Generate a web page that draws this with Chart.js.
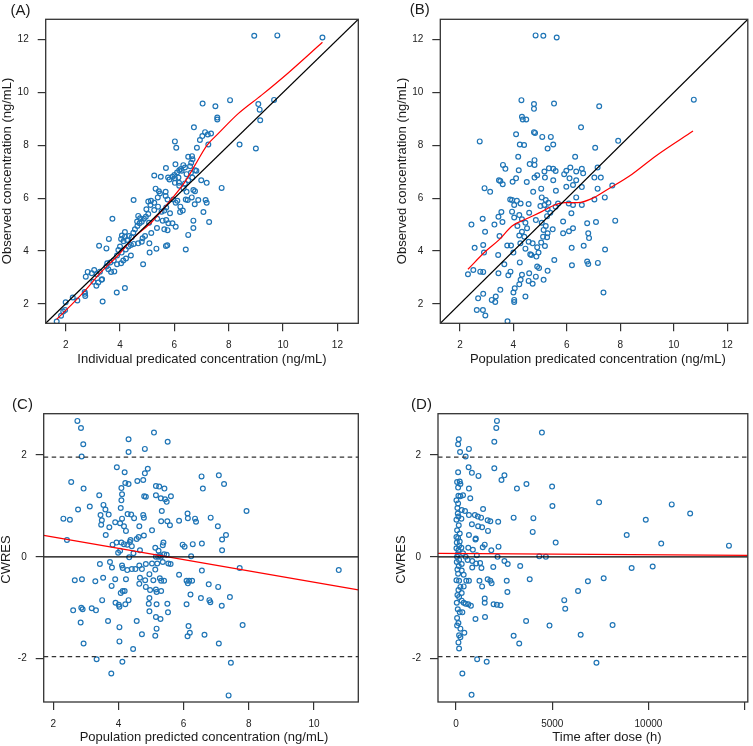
<!DOCTYPE html>
<html>
<head>
<meta charset="utf-8">
<script src="https://cdn.jsdelivr.net/npm/chart.js@4.4.1/dist/chart.umd.min.js"></script>
<style>
html, body { margin: 0; padding: 0; background: #fff; width: 753px; height: 746px; overflow: hidden; }
canvas { position: absolute; }
</style>
</head>
<body>
<canvas id="panelA" width="376" height="373" style="left:0;top:0"></canvas>
<canvas id="panelB" width="377" height="373" style="left:376px;top:0"></canvas>
<canvas id="panelC" width="376" height="373" style="left:0;top:373px"></canvas>
<canvas id="panelD" width="377" height="373" style="left:376px;top:373px"></canvas>
<script>
// ---- data ----
// (A) individual predicted vs observed
const ipredVsObs = [
  [8.94,12.15],[9.79,12.16],[11.45,12.08],[9.67,9.72],[7.04,9.58],[7.51,9.48],[8.05,9.71],[9.09,9.56],
  [9.14,9.35],[9.16,8.95],[7.58,9.05],[7.58,8.98],[6.72,8.68],[7.13,8.5],[7.23,8.41],[7.03,8.35],
  [7.35,8.45],[6.94,8.2],[7.25,8.03],[6.02,8.15],[6.07,7.91],[6.83,7.91],[8.4,8.03],[9.0,7.88],
  [6.51,7.57],[6.65,7.59],[6.67,7.47],[6.62,7.34],[6.04,7.28],[6.33,7.25],[6.39,7.16],[6.24,7.1],
  [6.18,7.06],[6.27,7.04],[5.69,7.14],[6.58,7.21],[6.76,7.06],[6.61,6.96],[6.1,6.97],[6.0,6.88],
  [5.93,6.81],[5.26,6.86],[5.5,6.81],[5.77,6.78],[5.82,6.71],[6.02,6.75],[6.15,6.78],[6.45,6.91],
  [6.81,7.04],[6.51,6.68],[6.39,6.56],[6.66,6.78],[6.17,6.58],[6.99,6.68],[7.19,6.58],[7.74,6.39],
  [5.31,6.36],[5.43,6.26],[6.02,6.58],[6.18,6.47],[6.34,6.37],[6.45,6.24],[5.68,6.24],[5.39,6.03],
  [5.14,5.9],[5.04,5.87],[5.26,5.83],[5.12,5.74],[4.5,5.93],[5.47,6.18],[5.68,6.08],[5.75,5.95],
  [5.96,5.95],[6.11,5.9],[6.76,6.26],[6.7,6.31],[6.64,6.03],[6.88,5.93],[7.15,5.93],[7.19,5.83],
  [6.49,5.93],[6.22,5.68],[6.05,5.83],[6.31,5.53],[6.42,5.95],[6.75,5.77],[7.07,5.48],[7.28,5.1],
  [4.97,5.58],[5.26,5.55],[5.4,5.68],[4.67,5.33],[4.74,5.24],[4.63,5.12],[4.88,5.22],[5.04,5.4],
  [5.53,5.49],[5.63,5.53],[5.7,5.65],[5.37,5.22],[5.57,5.15],[5.7,5.17],[5.78,5.05],[5.93,5.05],
  [6.05,4.92],[5.63,4.82],[5.75,4.79],[5.36,4.87],[5.15,4.68],[5.08,4.29],[5.34,4.09],[5.69,4.19],
  [5.74,4.22],[6.42,4.06],[6.51,4.61],[6.7,4.87],[6.7,5.15],[5.84,5.43],[6.21,5.48],[3.72,5.22],
  [3.59,4.46],[4.18,4.72],[4.07,4.59],[4.18,4.54],[4.04,4.46],[4.13,4.37],[4.26,4.42],[4.33,4.57],
  [4.43,4.52],[4.49,4.69],[4.55,4.82],[4.64,4.95],[4.72,5.05],[4.8,5.11],[4.4,4.23],[4.5,4.27],
  [4.67,4.29],[4.8,4.35],[4.83,4.48],[4.92,4.57],[4.31,4.17],[4.21,4.06],[4.0,4.17],[3.94,4.04],
  [4.06,3.94],[3.89,3.83],[3.23,4.2],[3.5,4.1],[4.4,3.83],[4.22,3.72],[4.12,3.64],[4.04,3.54],
  [3.89,3.5],[3.64,3.57],[3.77,3.64],[3.53,3.54],[3.5,3.41],[3.57,3.31],[3.67,3.21],[3.79,3.23],
  [4.85,3.5],[5.09,3.94],[3.26,3.22],[3.15,3.12],[3.05,3.28],[2.96,3.16],[2.81,3.21],[3.32,2.91],
  [3.2,2.81],[3.02,2.84],[2.74,3.03],[4.18,2.6],[1.67,1.33],[1.83,1.55],[1.91,1.71],[2.0,2.06],
  [1.98,1.77],[2.26,2.24],[2.43,2.13],[2.71,2.38],[2.72,2.3],[2.7,2.45],[3.13,2.69],[3.36,2.09],
  [3.88,2.43],[3.34,2.93],[5.07,5.07],[4.95,5.3]
];
const loessAX = [1.67, 2.2, 2.71, 3.3, 3.94, 4.5, 5.17, 5.8, 6.39, 6.76, 7.2, 7.62, 8.35, 9.21, 10.2, 11.45];
const loessAY = [1.42, 1.95, 2.5, 3.2, 3.85, 4.5, 5.1, 5.85, 6.62, 7.25, 8.0, 8.45, 9.2, 9.9, 10.75, 11.9];

// (B) population predicted vs observed
const predVsObs = [
  [4.30,9.71],[4.77,9.56],[4.77,9.38],[5.52,9.58],[7.21,9.48],[4.32,9.08],[4.35,8.98],[4.48,8.98],
  [6.53,8.68],[2.74,8.15],[4.10,8.42],[4.77,8.50],[4.81,8.47],[5.08,8.32],[5.40,8.32],[4.24,8.03],
  [4.40,8.01],[5.49,8.03],[5.28,7.88],[7.06,7.91],[7.92,8.17],[4.18,7.57],[4.79,7.44],[4.61,7.29],
  [4.79,7.26],[3.61,7.26],[3.70,7.11],[3.46,6.68],[3.51,6.65],[3.60,6.53],[4.20,7.06],[4.89,6.87],
  [4.79,6.78],[5.16,7.01],[5.33,7.13],[5.49,7.11],[5.58,7.03],[5.18,6.78],[5.90,6.91],[5.98,7.04],
  [6.13,7.16],[6.31,7.57],[6.35,7.01],[6.56,7.11],[6.61,6.94],[7.15,7.16],[7.27,6.78],[7.03,6.78],
  [6.10,6.75],[6.35,6.68],[5.49,6.68],[2.92,6.38],[3.13,6.24],[3.97,6.62],[4.10,6.75],[4.50,6.61],
  [4.74,6.24],[5.04,6.36],[5.59,6.28],[5.06,6.03],[5.21,5.93],[5.98,6.43],[6.23,6.50],[6.56,6.42],
  [7.15,6.36],[7.42,6.03],[7.70,6.48],[7.03,5.95],[6.35,6.03],[6.07,5.80],[6.23,5.74],[6.56,5.74],
  [5.67,5.80],[5.31,5.83],[3.88,5.95],[3.95,5.93],[4.13,5.90],[4.27,5.80],[4.03,5.74],[4.57,5.78],
  [5.01,5.70],[5.16,5.74],[5.28,5.58],[5.38,5.45],[5.26,5.32],[5.58,5.68],[5.86,5.12],[6.17,5.43],
  [7.81,5.15],[6.76,5.05],[7.09,5.10],[2.43,5.00],[2.85,5.22],[2.94,4.73],[3.29,5.00],[3.44,5.30],
  [3.55,5.48],[3.59,5.10],[3.95,5.49],[4.03,5.27],[4.22,5.36],[4.32,5.20],[4.45,5.07],[4.59,5.45],
  [4.84,5.17],[5.06,5.07],[5.21,4.95],[5.13,4.80],[5.28,4.67],[5.47,4.82],[5.11,4.54],[5.26,4.52],
  [5.04,4.32],[5.18,4.19],[4.89,4.14],[4.72,4.29],[4.57,4.35],[4.41,4.54],[4.22,4.59],[4.32,4.73],
  [4.51,4.86],[4.15,4.95],[2.55,4.12],[2.87,4.23],[2.90,3.94],[3.48,4.57],[3.77,4.21],[3.91,4.21],
  [4.00,3.94],[4.26,4.29],[4.45,4.09],[4.67,3.85],[4.86,3.79],[4.94,3.94],[5.86,4.67],[6.08,4.75],
  [6.18,4.12],[6.23,4.86],[6.80,4.67],[6.83,4.49],[6.63,4.20],[7.43,4.06],[3.43,3.85],[3.66,3.50],
  [4.24,3.57],[4.63,3.88],[4.89,3.41],[5.53,3.66],[6.19,3.46],[6.76,3.60],[6.80,3.51],[7.16,3.55],
  [2.30,3.12],[2.50,3.28],[2.76,3.22],[2.87,3.21],[3.44,3.16],[3.89,3.22],[3.81,3.08],[4.59,3.16],
  [4.84,3.03],[4.96,3.36],[5.13,2.91],[5.28,3.25],[4.32,3.10],[4.27,2.91],[4.57,2.87],[4.72,2.76],
  [4.22,2.74],[4.05,2.59],[4.00,2.43],[4.45,2.28],[3.51,2.53],[2.87,2.38],[2.68,2.21],[3.19,2.15],
  [3.34,2.28],[3.32,2.07],[4.03,2.15],[4.03,2.07],[7.37,2.43],[2.63,1.77],[2.86,1.77],[2.95,1.56],
  [3.78,1.34],[4.83,12.16],[5.12,12.15],[5.62,12.08],[10.75,9.73]
];
const loessBX = [2.3, 2.97, 3.46, 3.95, 4.45, 5.06, 5.55, 5.92, 6.41, 7.03, 7.52, 8.44, 9.33, 10.72];
const loessBY = [3.31, 4.0, 4.42, 4.95, 5.2, 5.49, 5.74, 5.83, 5.83, 6.03, 6.33, 6.91, 7.6, 8.54];

// (C) population predicted vs CWRES
const predVsCwres = [
  [2.74,2.67],[2.85,2.53],[2.92,2.21],[2.87,1.97],[4.31,2.31],[4.31,2.06],[5.09,2.44],[4.81,2.12],
  [5.51,2.26],[2.55,1.47],[2.93,1.34],[3.95,1.76],[4.19,1.66],[4.58,1.49],[4.76,1.51],[4.81,1.64],
  [4.9,1.73],[4.21,1.45],[4.31,1.43],[4.09,1.35],[4.11,1.23],[3.41,1.21],[3.12,0.99],[2.76,0.93],
  [2.31,0.75],[2.51,0.73],[2.42,0.33],[3.54,1.02],[3.6,0.93],[3.45,0.82],[3.49,0.72],[3.47,0.63],
  [3.7,0.83],[3.72,0.58],[3.61,0.43],[4.09,1.11],[4.07,0.96],[3.9,0.68],[4.05,0.66],[4.17,0.6],
  [4.23,0.51],[4.11,0.75],[4.39,0.83],[4.28,0.84],[4.48,0.76],[4.64,0.6],[4.78,0.77],[4.76,0.82],
  [4.79,1.19],[4.84,1.18],[5.15,1.39],[5.25,1.38],[5.41,1.34],[5.15,1.21],[5.43,1.13],[5.3,1.15],
  [5.48,1.08],[5.61,1.19],[5.33,0.9],[5.03,0.52],[5.31,0.7],[5.5,0.7],[5.58,0.62],[5.86,0.71],
  [4.78,0.42],[4.62,0.39],[6.12,0.85],[6.13,0.76],[6.35,0.75],[6.38,0.69],[6.55,1.58],[6.59,1.34],
  [6.83,0.77],[7.05,0.6],[7.08,1.6],[7.24,1.43],[7.18,0.34],[7.3,0.43],[7.18,0.13],[7.93,0.9],
  [6.56,0.26],[5.97,0.24],[6.03,0.2],[6.28,0.25],[6.23,0.01],[7.72,-0.22],[5.86,-0.35],[6.56,-0.27],
  [6.17,-0.47],[6.26,-0.47],[6.09,-0.47],[6.13,-0.52],[6.77,-0.54],[7.06,-0.59],[6.21,-0.74],[6.09,-0.93],
  [6.53,-0.81],[6.79,-0.85],[6.82,-0.89],[7.17,-0.96],[7.42,-0.79],[7.81,-1.34],[6.15,-1.36],[6.19,-1.49],
  [6.12,-1.56],[6.64,-1.53],[7.08,-1.7],[7.45,-2.08],[7.38,-2.72],[3.82,0.24],[3.94,0.28],[4.09,0.28],
  [4.17,0.25],[4.27,0.24],[4.35,0.29],[4.41,0.21],[4.37,0.33],[4.56,0.35],[3.99,0.08],[4.05,0.12],
  [4.46,0.07],[4.33,-0.01],[4.66,0.13],[5.13,0.18],[5.38,0.28],[5.36,0.23],[5.23,0.12],[5.27,0.03],
  [5.15,0.0],[5.22,0.0],[5.3,0.0],[5.4,0.05],[5.48,0.04],[5.19,-0.13],[5.36,-0.1],[5.53,-0.13],
  [5.6,-0.14],[3.43,-0.14],[3.74,-0.1],[3.8,-0.21],[4.11,-0.17],[4.13,-0.22],[4.27,-0.26],[4.41,-0.24],
  [4.52,-0.24],[4.64,-0.17],[4.72,-0.24],[4.84,-0.14],[4.95,-0.34],[5.03,-0.13],[5.13,-0.25],[2.66,-0.46],
  [2.88,-0.44],[3.29,-0.48],[3.53,-0.41],[3.79,-0.57],[3.9,-0.44],[4.23,-0.44],[4.66,-0.41],[4.64,-0.53],
  [4.82,-0.46],[4.84,-0.59],[4.97,-0.65],[4.95,-0.81],[5.07,-0.46],[5.27,-0.42],[5.31,-0.47],[5.4,-0.47],
  [5.15,-0.64],[5.31,-0.67],[5.17,-0.69],[4.13,-0.67],[4.19,-0.67],[4.07,-0.71],[3.5,-0.85],[3.91,-0.9],
  [4.01,-0.94],[4.03,-0.98],[4.31,-0.85],[4.21,-0.93],[4.93,-0.92],[5.17,-0.93],[5.5,-0.92],[4.95,-1.07],
  [5.15,-1.18],[5.29,-1.22],[5.52,-1.09],[2.61,-1.05],[2.86,-1.0],[2.9,-1.03],[3.18,-1.01],[3.31,-1.05],
  [2.84,-1.29],[3.68,-1.26],[4.03,-1.38],[4.56,-1.26],[4.72,-1.52],[5.13,-1.55],[5.17,-1.41],[2.93,-1.7],
  [4.03,-1.66],[4.45,-1.81],[3.33,-2.01],[4.12,-2.06],[3.78,-2.29],[10.76,-0.26]
];
const trendCX = [1.706, 11.36];
const trendCY = [0.42, -0.65];

// (D) time after dose vs CWRES
const timeVsCwres = [
  [2124,2.67],[2090,2.53],[1987,2.26],[4462,2.44],[139,2.31],[105,2.21],[207,2.06],[668,2.12],
  [497,1.97],[105,1.66],[651,1.76],[822,1.65],[1164,1.59],[1987,1.74],[2513,1.6],[2360,1.51],
  [3163,1.34],[3658,1.43],[4991,1.38],[5008,1.0],[53,1.47],[190,1.48],[105,1.36],[224,1.43],
  [668,1.34],[122,1.2],[224,1.19],[361,1.21],[737,1.15],[70,0.96],[292,0.92],[463,0.9],
  [1403,0.94],[122,0.79],[19,0.73],[275,0.75],[668,0.82],[976,0.82],[1130,0.79],[1300,0.77],
  [1642,0.72],[1779,0.7],[2189,0.69],[822,0.64],[1146,0.6],[1352,0.58],[1659,0.51],[2992,0.77],
  [4018,0.76],[3983,0.49],[5178,0.28],[139,0.62],[190,0.46],[105,0.37],[190,0.3],[668,0.43],
  [1008,0.34],[1025,0.36],[1386,0.19],[1489,0.24],[2206,0.2],[1831,0.13],[156,0.22],[19,0.17],
  [275,0.18],[122,0.13],[634,0.18],[873,0.14],[1078,0.03],[361,0.07],[53,0.0],[497,0.0],
  [2155,0.0],[4326,0.01],[4667,0.0],[156,-0.06],[600,-0.06],[839,-0.08],[1044,-0.13],[1250,-0.12],
  [139,-0.18],[292,-0.14],[839,-0.21],[1318,-0.22],[1933,-0.2],[2513,-0.08],[2684,-0.14],[3333,-0.18],
  [105,-0.33],[292,-0.27],[395,-0.35],[19,-0.46],[156,-0.47],[531,-0.47],[668,-0.47],[224,-0.59],
  [395,-0.58],[122,-0.65],[292,-0.71],[1215,-0.47],[1352,-0.58],[1642,-0.44],[1779,-0.47],[1847,-0.52],
  [2633,-0.47],[3828,-0.44],[2667,-0.69],[156,-0.79],[292,-0.86],[497,-0.92],[634,-0.93],[771,-0.96],
  [395,-0.9],[1489,-0.82],[1489,-0.9],[1950,-0.93],[2120,-0.94],[2309,-0.95],[88,-1.03],[190,-1.09],
  [326,-1.09],[1008,-1.22],[1504,-1.18],[122,-1.3],[53,-1.35],[224,-1.41],[429,-1.49],[156,-1.54],
  [224,-1.58],[122,-1.68],[156,-1.8],[1095,-2.01],[1591,-2.06],[326,-2.29],[805,-2.71],[2992,-1.55],
  [3282,-1.7],[3640,-1.26],[4856,-1.35],[7434,1.07],[11211,1.03],[12168,0.85],[9861,0.73],[8870,0.43],
  [10664,0.26],[14185,0.22],[9126,-0.22],[10220,-0.19],[7673,-0.42],[6853,-0.48],[6340,-0.67],[5623,-0.85],
  [5674,-1.02],[8135,-1.34],[6477,-1.53],[7297,-2.08],[19,0.39],[53,0.52],[19,1.11],[88,0.05],
  [70,-0.25],[36,-0.9],[53,-1.2],[88,0.85],[36,0.28],[70,-0.75],[105,1.05],[36,-0.1]
];
const trendDX = [-940, 15165];
const trendDY = [0.07, 0.03];

// axes
const concRange = [1.265, 12.77];
const concTicks = [2, 4, 6, 8, 10, 12];
const predRangeC = [1.706, 11.36];
const predTicksC = [2, 4, 6, 8, 10];
const cwresRange = [-2.85, 2.811];
const cwresTicks = [-2, 0, 2];
const cwresBounds = [-1.96, 1.96];
const timeRange = [-940, 15165];
const timeTicks = [0, 5000, 10000, 15000];
const timeTickLabels = ['0', '5000', '10000', ''];

const BLUE = '#1f75b6';
const FONT = "'Liberation Sans', Arial, Helvetica, sans-serif";
Chart.defaults.font.family = FONT;

const toXY = arr => arr.map(([x, y]) => ({x, y}));

function scatterSet(arr) {
  return {
    type: 'scatter', data: toXY(arr), showLine: false, order: 2,
    pointRadius: 2.4, pointBorderWidth: 1.2, borderColor: BLUE,
    backgroundColor: 'rgba(0,0,0,0)', pointBackgroundColor: 'rgba(0,0,0,0)'
  };
}
function lineSet(xs, ys, color, width, dash, smooth) {
  return {
    type: 'line', data: xs.map((x, i) => ({x, y: ys[i]})), order: 1,
    borderColor: color, borderWidth: width, borderDash: dash || [],
    pointRadius: 0, fill: false, tension: 0,
    cubicInterpolationMode: smooth ? 'monotone' : 'default'
  };
}

// frame round the plot region, like R's box()
const boxPlugin = {
  id: 'box',
  afterDatasetsDraw(chart) {
    const {ctx, chartArea: {left, top, right, bottom}} = chart;
    ctx.save();
    ctx.strokeStyle = '#333';
    ctx.lineWidth = 1.3;
    ctx.strokeRect(left, top, right - left, bottom - top);
    ctx.restore();
  }
};
// panel letter and axis titles
function textPlugin(items) {
  return {
    id: 'panelText',
    afterDraw(chart) {
      const ctx = chart.ctx;
      ctx.save();
      ctx.fillStyle = '#1a1a1a';
      ctx.textAlign = 'center';
      ctx.textBaseline = 'middle';
      items.forEach(t => {
        ctx.save();
        ctx.font = t.size + 'px ' + FONT;
        ctx.translate(t.x, t.y);
        if (t.rot) ctx.rotate(-Math.PI / 2);
        ctx.fillText(t.text, 0, 0);
        ctx.restore();
      });
      ctx.restore();
    }
  };
}

function axis(range, ticks, labels, fitSize, isX) {
  return {
    type: 'linear', min: range[0], max: range[1],
    afterBuildTicks: s => { s.ticks = ticks.map(v => ({value: v})); },
    afterFit: s => { if (isX) s.height = fitSize; else s.width = fitSize; },
    ticks: {
      autoSkip: false, maxRotation: 0, padding: isX ? 8 : 9, color: '#222',
      font: {size: 10},
      callback: (v, i) => labels ? labels[i] : String(v)
    },
    grid: {drawOnChartArea: false, drawTicks: true, tickLength: 8, tickColor: '#333', lineWidth: 1.2},
    border: {display: false}
  };
}

function makePanel(id, p) {
  const canvas = document.getElementById(id);
  const W = canvas.width, H = canvas.height;
  return new Chart(canvas, {
    type: 'scatter',
    data: {datasets: p.datasets},
    options: {
      responsive: false,
      animation: false,
      events: [],
      layout: {padding: {left: 0, top: p.area.top, right: W - p.area.right, bottom: 0}},
      scales: {
        x: axis(p.xRange, p.xTicks, p.xLabels, H - p.area.bottom, true),
        y: axis(p.yRange, p.yTicks, null, p.area.left, false)
      },
      plugins: {legend: {display: false}, tooltip: {enabled: false}}
    },
    plugins: [boxPlugin, textPlugin(p.texts)]
  });
}

makePanel('panelA', {
  area: {left: 45.7, right: 358.3, top: 19.3, bottom: 323.3},
  xRange: concRange, yRange: concRange, xTicks: concTicks, yTicks: concTicks,
  datasets: [
    lineSet(concRange, concRange, '#000', 1.2),
    lineSet(loessAX, loessAY, '#ff0000', 1.2, null, true),
    scatterSet(ipredVsObs)
  ],
  texts: [
    {text: '(A)', x: 20.5, y: 10.5, size: 15},
    {text: 'Individual predicated concentration (ng/mL)', x: 202, y: 359, size: 13},
    {text: 'Observed concentration (ng/mL)', x: 7.5, y: 171, size: 13, rot: true}
  ]
});

makePanel('panelB', {
  area: {left: 64.3, right: 376.5, top: 19.3, bottom: 323.3},
  xRange: concRange, yRange: concRange, xTicks: concTicks, yTicks: concTicks,
  datasets: [
    lineSet(concRange, concRange, '#000', 1.2),
    lineSet(loessBX, loessBY, '#ff0000', 1.2, null, true),
    scatterSet(predVsObs)
  ],
  texts: [
    {text: '(B)', x: 43.7, y: 9.7, size: 15},
    {text: 'Population predicated concentration (ng/mL)', x: 221.8, y: 359, size: 13},
    {text: 'Observed concentration (ng/mL)', x: 26.2, y: 171, size: 13, rot: true}
  ]
});

makePanel('panelC', {
  area: {left: 43.7, right: 358.3, top: 40.7, bottom: 329},
  xRange: predRangeC, yRange: cwresRange, xTicks: predTicksC, yTicks: cwresTicks,
  datasets: [
    lineSet(predRangeC, [0, 0], '#000', 1.2),
    lineSet(predRangeC, [cwresBounds[1], cwresBounds[1]], '#333', 1.3, [4.5, 3.5]),
    lineSet(predRangeC, [cwresBounds[0], cwresBounds[0]], '#333', 1.3, [4.5, 3.5]),
    lineSet(trendCX, trendCY, '#ff0000', 1.3),
    scatterSet(predVsCwres)
  ],
  texts: [
    {text: '(C)', x: 22.5, y: 31.5, size: 15},
    {text: 'Population predicted concentration (ng/mL)', x: 204, y: 364, size: 13},
    {text: 'CWRES', x: 6.7, y: 186.5, size: 13, rot: true}
  ]
});

makePanel('panelD', {
  area: {left: 62, right: 375.5, top: 40.7, bottom: 329},
  xRange: timeRange, yRange: cwresRange, xTicks: timeTicks, xLabels: timeTickLabels, yTicks: cwresTicks,
  datasets: [
    lineSet(timeRange, [0, 0], '#000', 1.2),
    lineSet(timeRange, [cwresBounds[1], cwresBounds[1]], '#333', 1.3, [4.5, 3.5]),
    lineSet(timeRange, [cwresBounds[0], cwresBounds[0]], '#333', 1.3, [4.5, 3.5]),
    lineSet(trendDX, trendDY, '#ff0000', 1.3),
    scatterSet(timeVsCwres)
  ],
  texts: [
    {text: '(D)', x: 45.5, y: 31.7, size: 15},
    {text: 'Time after dose (h)', x: 231, y: 364, size: 13},
    {text: 'CWRES', x: 25.3, y: 186.5, size: 13, rot: true}
  ]
});
</script>
</body>
</html>
